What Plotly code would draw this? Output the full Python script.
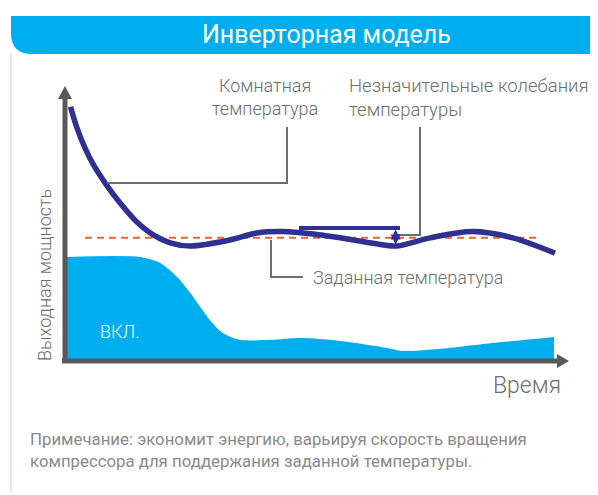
import plotly.graph_objects as go

# page body adds an 8px margin around the figure
OFF = 8
W, H = 598 - OFF, 495 - OFF

# room temperature curve (time 0..100, output 0..100)
time = [0.7, 1.9, 3.6, 5.3, 7.9, 10.6, 13.9, 17.2, 20.6, 24.6, 32.5, 37.9, 43.1, 49.1, 55.9, 62.5, 65.9, 72.5, 81.0, 89.0, 97.4]
room_temp = [93.1, 85.8, 77.9, 71.7, 64.3, 57.7, 50.8, 46.0, 43.1, 41.9, 44.1, 46.7, 47.2, 46.3, 44.5, 42.5, 41.9, 44.9, 47.2, 44.9, 39.3]

# compressor output (filled area)
power_time = [0.0, 14.6, 18.6, 22.0, 24.6, 26.6, 28.5, 31.1, 34.5, 40.5, 46.5, 52.5, 62.7, 67.3, 74.1, 85.4, 97.2]
power = [37.9, 37.9, 35.7, 30.5, 24.6, 19.5, 14.7, 9.9, 7.4, 7.4, 8.1, 7.4, 4.8, 3.3, 4.0, 6.3, 8.5]

set_temp = 44.9
set_span = [3.6, 94.0]
swing = [41.9, 48.0]  # fluctuation marker (low, high)
swing_time = 65.6

# screen-pixel origin and scale of the data axes
X0, Y0, SX, SY = 67, 360, 5.01, 2.72


def px(x):
    return (x - OFF) / W


def py(y):
    return 1 - (y - OFF) / H


def path(cmds):
    out = []
    for c in cmds:
        if isinstance(c, str):
            out.append(c)
        else:
            out.append(f"{px(c[0]):.5f},{py(c[1]):.5f}")
    return " ".join(out)


NAVY = "#2e3192"
CYAN = "#00aeef"
GREY = "#6d6e71"
AXIS = "#58595b"
ORANGE = "#ec6433"

fig = go.Figure()

fig.add_trace(go.Scatter(
    x=power_time, y=power, mode="lines", fill="tozeroy",
    line=dict(color=CYAN, width=0, shape="spline", smoothing=0.8),
    fillcolor=CYAN, hoverinfo="skip"))

fig.add_trace(go.Scatter(
    x=set_span, y=[set_temp, set_temp], mode="lines",
    line=dict(color=ORANGE, width=2, dash="7px,5px"), hoverinfo="skip"))

fig.add_trace(go.Scatter(
    x=time, y=room_temp, mode="lines",
    line=dict(color=NAVY, width=5.5, shape="spline", smoothing=0.8), hoverinfo="skip"))

shapes = []
# header banner
shapes.append(dict(type="path", xref="paper", yref="paper", fillcolor=CYAN, line=dict(width=0),
                   path=path(["M", (11, 16), "L", (600, 16), "L", (600, 44), "Q", (600, 54), (590, 54),
                              "L", (32, 54), "Q", (11, 54), (11, 33), "Z"])))
# thin left rule
shapes.append(dict(type="line", xref="paper", yref="paper", x0=px(11), x1=px(11), y0=py(54), y1=py(492),
                   line=dict(color="#cfcfcf", width=1)))
# leaders
shapes.append(dict(type="path", xref="paper", yref="paper", line=dict(color=GREY, width=2),
                   path=path(["M", (107, 183), "L", (287, 183), "L", (287, 127)])))
shapes.append(dict(type="path", xref="paper", yref="paper", line=dict(color=GREY, width=2),
                   path=path(["M", (271, 240), "L", (271, 277), "L", (303, 277)])))
shapes.append(dict(type="path", xref="paper", yref="paper", line=dict(color=GREY, width=2),
                   path=path(["M", (420, 127), "L", (420, 235), "L", (398, 235)])))
# fluctuation bar
shapes.append(dict(type="line", xref="paper", yref="paper", x0=px(299), x1=px(400), y0=py(228), y1=py(228),
                   line=dict(color=NAVY, width=4)))
# axes lines
shapes.append(dict(type="line", xref="paper", yref="paper", x0=px(62), x1=px(560), y0=py(361), y1=py(361),
                   line=dict(color=AXIS, width=5)))
shapes.append(dict(type="line", xref="paper", yref="paper", x0=px(65), x1=px(65), y0=py(363), y1=py(96),
                   line=dict(color=AXIS, width=5)))
# arrow heads
shapes.append(dict(type="path", xref="paper", yref="paper", fillcolor=AXIS, line=dict(width=0),
                   path=path(["M", (569, 361), "L", (557, 354), "L", (557, 368), "Z"])))
shapes.append(dict(type="path", xref="paper", yref="paper", fillcolor=AXIS, line=dict(width=0),
                   path=path(["M", (65, 86), "L", (58, 99), "L", (72, 99), "Z"])))

FONT = "Roboto"
ann = []


def text(x, y, s, size, color=GREY, xanchor="center", align="center", angle=0, weight=300):
    ann.append(dict(x=px(x), y=py(y), xref="paper", yref="paper", text=s, showarrow=False,
                    xanchor=xanchor, yanchor="middle", align=align, textangle=angle,
                    font=dict(family=FONT, size=size, color=color, weight=weight)))


text(326, 35, "Инверторная модель", 25, color="white", weight=400)
text(265, 97, "Комнатная<br>температура", 18)
text(347, 98, "Незначительные колебания<br>температуры", 18.5, xanchor="left", align="left")
text(311, 277, "Заданная температура", 18, xanchor="left")
text(98, 331, "ВКЛ.", 18, color="white", xanchor="left")
text(44, 275, "Выходная мощность", 18, angle=-90)
text(563, 385, "Время", 23, xanchor="right")
text(28, 450, "Примечание: экономит энергию, варьируя скорость вращения<br>компрессора для поддержания заданной температуры.",
     16.8, color="#8a8a8a", xanchor="left", align="left", weight=400)

# double-headed arrow for the fluctuation
ann.append(dict(x=swing_time, y=swing[1], ax=swing_time, ay=swing[0], xref="x", yref="y",
                axref="x", ayref="y", showarrow=True, arrowside="end+start", arrowhead=2,
                arrowsize=1, arrowwidth=2, arrowcolor=NAVY, text=""))

fig.update_layout(
    width=W, height=H, margin=dict(l=0, r=0, t=0, b=0),
    paper_bgcolor="white", plot_bgcolor="white", showlegend=False,
    xaxis=dict(range=[(OFF - X0) / SX, (598 - X0) / SX], visible=False, fixedrange=True),
    yaxis=dict(range=[(Y0 - 495) / SY, (Y0 - OFF) / SY], visible=False, fixedrange=True),
    shapes=shapes, annotations=ann,
)

fig.write_html("out.html")
